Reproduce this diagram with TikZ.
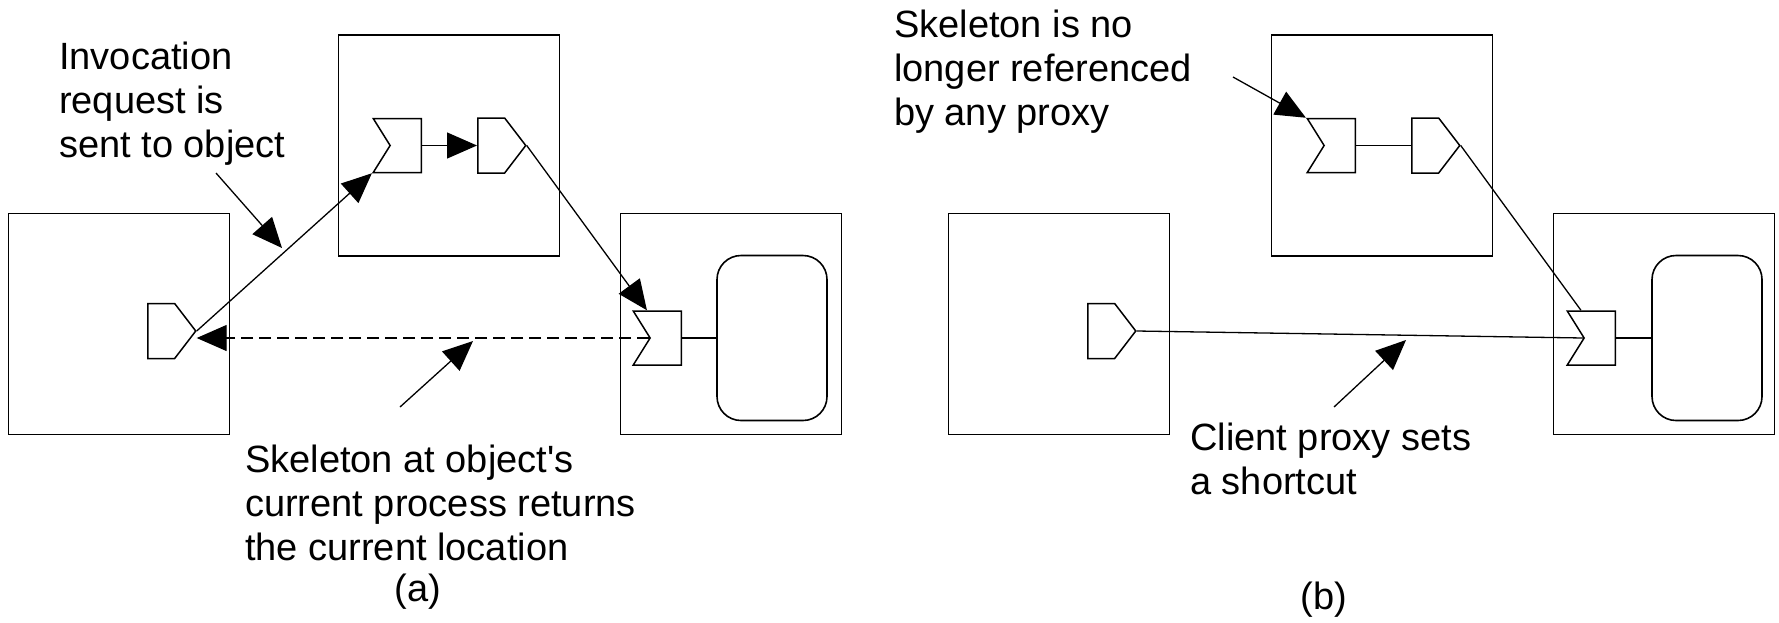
\documentclass[tikz,border=0pt]{standalone}
\usepackage{fontspec}
\setmainfont{Liberation Sans}
\usetikzlibrary{positioning,calc,shapes.symbols,arrows.meta}

\begin{document}
\begin{tikzpicture}[
    x=1pt, y=-1pt,
    host/.style={draw, line width=1.8pt, minimum width=221pt, minimum height=221pt, inner sep=0pt},
    objbox/.style={draw, line width=1.6pt, rounded corners=24pt, minimum width=110pt, minimum height=165pt, inner sep=0pt},
    proxy/.style={draw, line width=1.5pt, signal, signal to=east, signal pointer angle=105, minimum width=48pt, minimum height=55pt, inner sep=0pt, anchor=west},
    skel/.style={draw, line width=1.5pt, signal, signal to=nowhere, signal from=west, signal pointer angle=116, minimum width=48pt, minimum height=54pt, inner sep=0pt, anchor=east},
    link/.style={draw, line width=1.3pt},
    head/.style={-{Triangle[length=30pt, width=26pt]}},
    note/.style={align=left, inner sep=0pt, anchor=north west, font=\fontsize{38}{44}\selectfont},
    caption/.style={inner sep=0pt, font=\fontsize{38}{44}\selectfont}
]
\useasboundingbox (0,0) rectangle (1779,622);

% (a) processes
\node[host] (clientA) at (119,324) {};
\node[host] (oldA) at (449,145.5) {};
\node[host] (curA) at (731,324) {};
\node[objbox] (objA) at (772,338) {};

% (a) proxies and skeletons
\node[proxy] (proxyA) at (147,331) {};
\node[skel] (skelA) at (422,145.5) {};
\node[proxy] (fwdA) at (477,145.5) {};
\node[skel] (skelCurA) at (682,338) {};

% (b) processes
\node[host] (clientB) at (1059,324) {};
\node[host] (oldB) at (1382,145.5) {};
\node[host] (curB) at (1664,324) {};
\node[objbox] (objB) at (1707,338) {};

% (b) proxies and skeletons
\node[proxy] (proxyB) at (1087,331) {};
\node[skel] (skelB) at (1356,145.5) {};
\node[proxy] (fwdB) at (1411,145.5) {};
\node[skel] (skelCurB) at (1616,338) {};

% (a) connections
\draw[link, head] (proxyA.east) -- (skelA.south west);
\draw[link, head] (skelA.east) -- (fwdA.west);
\draw[link, head] (fwdA.east) -- ($(skelCurA.north west)!0.3!(skelCurA.north east)$);
\draw[link] (skelCurA.east) -- (objA.west);
\draw[link, head, dash pattern=on 12pt off 6pt] (skelCurA.west) -- (skelCurA.west -| proxyA.east);

% (b) connections
\draw[link] (skelB.east) -- (fwdB.west);
\draw[link] (fwdB.east) -- ($(skelCurB.north west)!0.3!(skelCurB.north east)$);
\draw[link] (proxyB.east) -- (skelCurB.west);
\draw[link] (skelCurB.east) -- (objB.west);

% pointers from the notes
\coordinate (invTail) at (216,173);
\coordinate (invHit) at (282,248);
\draw[link, head] (invTail) -- (invHit);
\coordinate (retTail) at (400,407);
\coordinate (retHit) at (473,341);
\draw[link, head] (retTail) -- (retHit);
\coordinate (gcTail) at (1233,77);
\draw[link, head] (gcTail) -- (skelB.north west);
\coordinate (cutTail) at (1334,407);
\coordinate (cutHit) at (1406,340);
\draw[link, head] (cutTail) -- (cutHit);

% notes
\node[note] (invNote) at (59,42) {Invocation\\request is\\sent to object};
\node[note] (retNote) at (245,445) {Skeleton at object\textquotesingle s\\current process returns\\the current location};
\node[note] (gcNote) at (894,10) {Skeleton is no\\longer referenced\\by any proxy};
\node[note] (cutNote) at (1190,423) {Client proxy sets\\a shortcut};
\node[caption] (capA) at (418,592) {(a)};
\node[caption] (capB) at (1324,600) {(b)};

\end{tikzpicture}
\end{document}
